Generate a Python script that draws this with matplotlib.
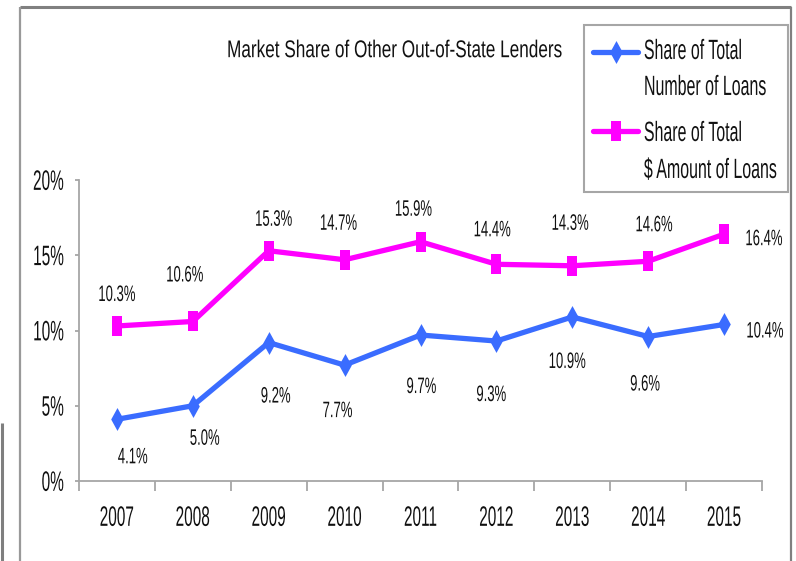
import matplotlib
matplotlib.use('Agg')
import numpy as np
import matplotlib.pyplot as plt
from matplotlib import font_manager
from matplotlib.patheffects import AbstractPathEffect
from matplotlib.transforms import Affine2D
from matplotlib.path import Path
from matplotlib.lines import Line2D
from matplotlib.patches import Rectangle

# ---------------- data ----------------
years = ['2007', '2008', '2009', '2010', '2011', '2012', '2013', '2014', '2015']
share_number = [4.1, 5.0, 9.2, 7.7, 9.7, 9.3, 10.9, 9.6, 10.4]
share_amount = [10.3, 10.6, 15.3, 14.7, 15.9, 14.4, 14.3, 14.6, 16.4]
y_ticks = [0, 5, 10, 15, 20]
y_tick_labels = ['0%', '5%', '10%', '15%', '20%']
series_names = [['Share of Total', 'Number of Loans'],
                ['Share of Total', '$ Amount of Loans']]
title = 'Market Share of Other Out-of-State Lenders'

# ---------------- layout / style ----------------
W, H, DPI = 796, 561, 100
BLUE = '#3a6cff'
MAGENTA = '#ff00ff'
GRAY = '#a6a6a6'
names = {f.name for f in font_manager.fontManager.ttflist}
if 'Liberation Sans Narrow' in names:
    FONT, SX = 'Liberation Sans Narrow', 1.0
else:
    FONT, SX = 'Liberation Sans', 0.82

# label offsets in pixels (center of label relative to point)
amount_off = [(0, 33), (-8, 48), (5, 33), (-6, 38), (-7, 34), (-4, 36), (-2, 44), (6, 38), (40, -3)]
number_off = [(16, -36), (12, -31), (7, -52), (-7, -44), (1, -50), (-5, -52), (-5, -43), (-3, -46), (41, -5)]


class Squeeze(AbstractPathEffect):
    """Scale glyphs horizontally (about the alignment point) and vertically
    (about the cap-height centre)."""
    def __init__(self, sx, sy, ha='center', anchor=35.8):
        super().__init__()
        self.sx, self.sy, self.ha, self.anchor = sx, sy, ha, anchor

    def draw_path(self, renderer, gc, tpath, affine, rgbFace=None):
        ext = tpath.get_extents()
        if self.ha == 'center':
            x0 = (ext.x0 + ext.x1) / 2
        elif self.ha == 'right':
            x0 = ext.x1
        else:
            x0 = 0
        t = (Affine2D().translate(-x0, -self.anchor)
             .scale(self.sx, self.sy).translate(x0, self.anchor))
        renderer.draw_path(gc, tpath, t + affine, rgbFace)


def fx(x):
    return x / W


def fy(y):
    return 1 - y / H


diamond = Path([(0, 1), (0.55, 0), (0, -1), (-0.55, 0), (0, 1)],
               [Path.MOVETO, Path.LINETO, Path.LINETO, Path.LINETO, Path.CLOSEPOLY])
rect = Path([(-0.53, -1), (0.53, -1), (0.53, 1), (-0.53, 1), (-0.53, -1)],
            [Path.MOVETO, Path.LINETO, Path.LINETO, Path.LINETO, Path.CLOSEPOLY])

fig = plt.figure(figsize=(W / DPI, H / DPI), dpi=DPI)
fig.patch.set_facecolor('white')
ax = fig.add_axes([fx(79), fy(481), 683 / W, 301 / H])

x = np.arange(len(years))
ax.plot(x, share_number, color=BLUE, lw=3.8, marker=diamond, ms=16.5, mew=0,
        solid_joinstyle='round', solid_capstyle='round', zorder=3)
ax.plot(x, share_amount, color=MAGENTA, lw=3.8, marker=rect, ms=13.7, mew=0,
        solid_joinstyle='round', solid_capstyle='round', zorder=3)

lab_em = 11.5 * DPI / 72
for series, offs in [(share_amount, amount_off), (share_number, number_off)]:
    for i, v in enumerate(series):
        dx, dy = offs[i]
        ax.annotate(f'{v:.1f}%', (x[i], v), xytext=(dx, dy - 0.358 * lab_em),
                    textcoords='offset pixels', ha='center', va='baseline',
                    fontsize=11.5, family=FONT, color='#111111',
                    path_effects=[Squeeze(SX, 1.4, 'center')])

ax.set_xlim(-0.5, len(years) - 0.5)
ax.set_ylim(0, 20)
ax.set_xticks(x)
ax.set_xticklabels(years)
ax.set_xticks(np.arange(-0.5, len(years), 1), minor=True)
ax.set_yticks(y_ticks)
ax.set_yticklabels(y_tick_labels)
ax.tick_params(axis='x', which='major', length=0, pad=20.5)
ax.tick_params(axis='x', which='minor', length=7.2, width=1.3, color=GRAY, direction='out')
ax.tick_params(axis='y', length=2.9, width=1.3, color=GRAY, pad=7.9)
for lab in ax.get_xticklabels():
    lab.set_path_effects([Squeeze(SX, 1.5, 'center')])
for lab in ax.get_yticklabels():
    lab.set_path_effects([Squeeze(SX, 1.5, 'right')])
for lab in ax.get_xticklabels() + ax.get_yticklabels():
    lab.set_fontfamily(FONT)
    lab.set_fontsize(13.5)
    lab.set_color('#111111')
for s in ['top', 'right']:
    ax.spines[s].set_visible(False)
for s in ['left', 'bottom']:
    ax.spines[s].set_color(GRAY)
    ax.spines[s].set_linewidth(1.3)

# title
t_em = 14.3 * DPI / 72
fig.text(fx(395), fy(48.5 + 0.358 * t_em), title, ha='center', va='baseline',
         fontsize=14.3, family=FONT, color='#111111',
         path_effects=[Squeeze(0.865 if SX < 1 else 1.06, 1.22, 'center')])

# outer frame
fig.add_artist(Line2D([fx(19.5), fx(790.5)], [fy(6.5), fy(6.5)], transform=fig.transFigure,
                      color='#808080', lw=2.2, solid_capstyle='butt'))
fig.add_artist(Line2D([fx(19.5), fx(19.5)], [fy(6.5), fy(561)], transform=fig.transFigure,
                      color='#999999', lw=1.6, solid_capstyle='butt'))
fig.add_artist(Line2D([fx(790.5), fx(790.5)], [fy(6.5), fy(561)], transform=fig.transFigure,
                      color='#808080', lw=1.6, solid_capstyle='butt'))
fig.add_artist(Line2D([fx(2), fx(2)], [fy(423), fy(561)], transform=fig.transFigure,
                      color='#7f7f7f', lw=2.2, solid_capstyle='butt'))

# legend
fig.add_artist(Rectangle((fx(584), fy(192)), 204 / W, 167 / H, transform=fig.transFigure,
                         fill=False, edgecolor=GRAY, lw=1.5))
leg_em = 14 * DPI / 72
for (color, mk, ms, yh) in [(BLUE, diamond, 16.5, 52), (MAGENTA, rect, 13.7, 131)]:
    fig.add_artist(Line2D([fx(593), fx(615.5), fx(638)], [fy(yh)] * 3,
                          transform=fig.transFigure, color=color, lw=3.8,
                          marker=mk, ms=ms, mew=0, markevery=[1],
                          solid_capstyle='round'))
renderer = fig.canvas.get_renderer()
for (lines, ys) in zip(series_names, [(49, 85), (131, 168)]):
    for s, yc in zip(lines, ys):
        t = fig.text(fx(644), fy(yc + 0.358 * leg_em), s, ha='left', va='baseline',
                     fontsize=14, family=FONT, color='#111111')
        w = t.get_window_extent(renderer).width
        # centre the (squeezed) label so that its layout box stays inside the figure
        t.set_x(fx(644 + SX * w / 2))
        t.set_ha('center')
        t.set_path_effects([Squeeze(SX, 1.43, 'center')])

fig.savefig('out.png', dpi=DPI, facecolor='white')
